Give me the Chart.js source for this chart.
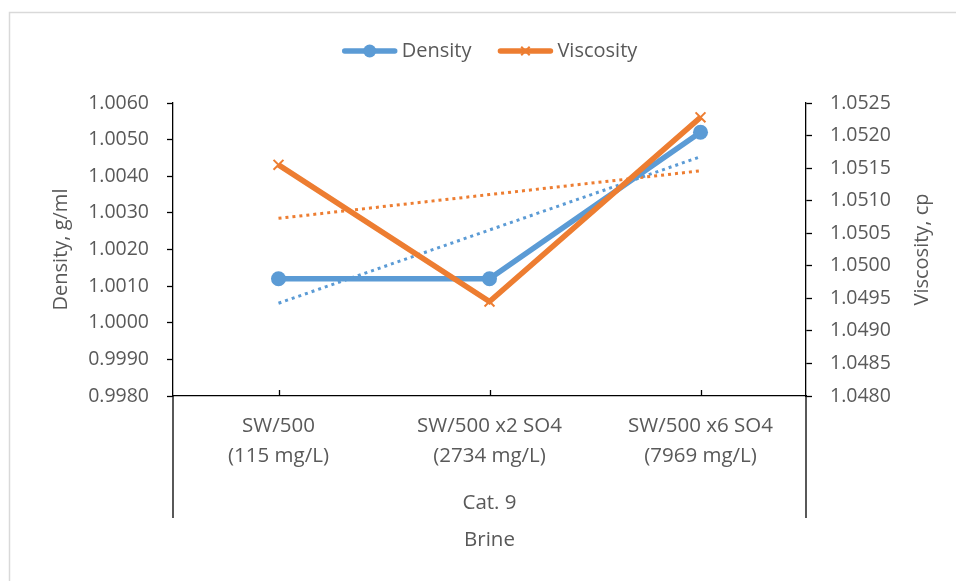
<!DOCTYPE html>
<html>
<head>
<meta charset="utf-8">
<title>Density and viscosity by brine</title>
<script src="https://cdn.jsdelivr.net/npm/chart.js@4.4.1/dist/chart.umd.min.js"></script>
<style>
  html, body { margin: 0; padding: 0; background: #fff; }
  canvas { display: block; }
</style>
</head>
<body>
<canvas id="myChart" width="956" height="581"></canvas>
<script>
const brines = [
  ['SW/500', '(115 mg/L)'],
  ['SW/500 x2 SO4', '(2734 mg/L)'],
  ['SW/500 x6 SO4', '(7969 mg/L)']
];
const groupLabel = 'Cat. 9';
const density = [1.0012, 1.0012, 1.0052];
const viscosity = [1.05155, 1.04945, 1.05228];
const densityTicks = [0.998, 0.999, 1.000, 1.001, 1.002, 1.003, 1.004, 1.005, 1.006];
const viscosityTicks = [1.048, 1.0485, 1.049, 1.0495, 1.050, 1.0505, 1.051, 1.0515, 1.052, 1.0525];
const viscosityTitle = 'Viscosity, cp';

const BLUE = '#5B9BD5';
const ORANGE = '#ED7D31';
const TEXT = '#595959';
const AXIS = '#000000';

Chart.defaults.font.family = "'Open Sans', sans-serif";
Chart.defaults.color = TEXT;

// least squares line through the points, evaluated at each category
function linearTrend(ys) {
  const n = ys.length;
  const xs = ys.map((_, i) => i + 1);
  const mx = xs.reduce((a, b) => a + b, 0) / n;
  const my = ys.reduce((a, b) => a + b, 0) / n;
  let sxy = 0, sxx = 0;
  xs.forEach((x, i) => { sxy += (x - mx) * (ys[i] - my); sxx += (x - mx) * (x - mx); });
  const slope = sxy / sxx;
  return xs.map(x => my + slope * (x - mx));
}

const fixedTicks = list => scale => { scale.ticks = list.map(v => ({ value: v })); };

const excelExtras = {
  id: 'excelExtras',
  afterDraw(chart) {
    const { ctx, chartArea: area } = chart;
    const xScale = chart.scales.x;
    ctx.save();

    // outer chart frame
    ctx.strokeStyle = '#d9d9d9';
    ctx.lineWidth = 1.5;
    ctx.strokeRect(9.5, 12.5, 1000, 1000);

    // category tick marks pointing into the plot
    ctx.strokeStyle = AXIS;
    ctx.lineWidth = 1.3;
    ctx.beginPath();
    brines.forEach((_, i) => {
      const x = Math.round(xScale.getPixelForValue(i)) + 0.5;
      ctx.moveTo(x, area.bottom);
      ctx.lineTo(x, area.bottom - 6);
    });
    // group separators under the axis
    [area.left, area.right].forEach(x => {
      ctx.moveTo(x, area.bottom);
      ctx.lineTo(x, area.bottom + 122);
    });
    ctx.stroke();

    // group label
    ctx.fillStyle = TEXT;
    ctx.font = "20.5px 'Open Sans', sans-serif";
    ctx.textAlign = 'center';
    ctx.textBaseline = 'middle';
    ctx.fillText(groupLabel, (area.left + area.right) / 2, area.bottom + 107);

    // secondary axis title, reading bottom to top like the primary one
    ctx.save();
    ctx.font = "20px 'Open Sans', sans-serif";
    ctx.translate(area.right + 116, (area.top + area.bottom) / 2);
    ctx.rotate(-Math.PI / 2);
    ctx.fillText(viscosityTitle, 0, 0);
    ctx.restore();

    // legend: line with marker, then label
    const items = chart.data.datasets
      .filter(d => d.legendIndex !== undefined)
      .sort((a, b) => a.legendIndex - b.legendIndex);
    ctx.font = "20px 'Open Sans', sans-serif";
    const lineLen = 56, textGap = 4, itemGap = 26;
    const widths = items.map(d => lineLen + textGap + ctx.measureText(d.label).width);
    const total = widths.reduce((a, b) => a + b, 0) + itemGap * (items.length - 1);
    let x = (area.left + area.right) / 2 - total / 2;
    const y = 51;
    items.forEach((d, i) => {
      ctx.strokeStyle = d.borderColor;
      ctx.lineWidth = d.borderWidth;
      ctx.lineCap = 'round';
      ctx.beginPath();
      ctx.moveTo(x + 3, y);
      ctx.lineTo(x + lineLen - 3, y);
      ctx.stroke();
      ctx.lineCap = 'butt';
      ctx.fillStyle = d.pointBackgroundColor;
      ctx.strokeStyle = d.pointBorderColor;
      ctx.lineWidth = d.pointBorderWidth;
      Chart.helpers.drawPoint(ctx, {
        pointStyle: d.pointStyle,
        radius: d.legendRadius,
        borderWidth: d.pointBorderWidth,
        rotation: 0
      }, x + lineLen / 2, y);
      ctx.fillStyle = TEXT;
      ctx.textAlign = 'left';
      ctx.fillText(d.label, x + lineLen + textGap, y);
      x += widths[i] + itemGap;
    });
    ctx.restore();
  }
};

const ctx = document.getElementById('myChart').getContext('2d');

new Chart(ctx, {
  type: 'line',
  data: {
    labels: brines,
    datasets: [
      {
        label: 'Viscosity',
        legendIndex: 1,
        data: viscosity,
        yAxisID: 'y1',
        borderColor: ORANGE,
        borderWidth: 5.5,
        pointStyle: 'crossRot',
        pointRadius: 7,
        legendRadius: 6,
        pointBorderWidth: 2,
        pointBorderColor: ORANGE,
        pointBackgroundColor: ORANGE,
        order: 1
      },
      {
        label: 'Density',
        legendIndex: 0,
        data: density,
        yAxisID: 'y',
        borderColor: BLUE,
        borderWidth: 5.5,
        pointStyle: 'circle',
        pointRadius: 7.5,
        legendRadius: 6.5,
        pointBorderWidth: 0,
        pointBorderColor: BLUE,
        pointBackgroundColor: BLUE,
        order: 2
      },
      {
        label: 'Linear (Viscosity)',
        data: linearTrend(viscosity),
        yAxisID: 'y1',
        borderColor: ORANGE,
        borderWidth: 3,
        borderDash: [3, 4],
        pointRadius: 0,
        order: 3
      },
      {
        label: 'Linear (Density)',
        data: linearTrend(density),
        yAxisID: 'y',
        borderColor: BLUE,
        borderWidth: 3,
        borderDash: [3, 4],
        pointRadius: 0,
        order: 4
      }
    ]
  },
  options: {
    responsive: false,
    animation: false,
    layout: { padding: { left: 12, right: 12, top: 103, bottom: 12 } },
    plugins: {
      legend: { display: false },
      tooltip: { enabled: false }
    },
    scales: {
      x: {
        offset: true,
        grid: { display: false, drawTicks: false },
        border: { display: true, color: AXIS, width: 1.3 },
        ticks: {
          color: TEXT,
          font: { size: 20.5, lineHeight: 1.47 },
          padding: 15,
          maxRotation: 0,
          autoSkip: false
        },
        title: {
          display: true,
          text: 'Brine',
          color: TEXT,
          font: { size: 20.5 },
          padding: { top: 0, bottom: 17 }
        },
        afterFit: s => { s.height = 173; }
      },
      y: {
        position: 'left',
        min: densityTicks[0],
        max: densityTicks[densityTicks.length - 1],
        afterBuildTicks: fixedTicks(densityTicks),
        grid: { drawOnChartArea: false, drawTicks: true, tickLength: 6, tickColor: AXIS, tickWidth: 1.3 },
        border: { color: AXIS, width: 1.3 },
        ticks: {
          color: TEXT,
          font: { size: 19.5 },
          padding: 18,
          callback: v => v.toFixed(4)
        },
        title: {
          display: true,
          text: 'Density, g/ml',
          color: TEXT,
          font: { size: 20 },
          padding: { top: 37, bottom: 0 }
        },
        afterFit: s => { s.width = 161; }
      },
      y1: {
        position: 'right',
        min: viscosityTicks[0],
        max: viscosityTicks[viscosityTicks.length - 1],
        afterBuildTicks: fixedTicks(viscosityTicks),
        grid: { drawOnChartArea: false, drawTicks: true, tickLength: 6, tickColor: AXIS, tickWidth: 1.3 },
        border: { color: AXIS, width: 1.3 },
        ticks: {
          color: TEXT,
          font: { size: 19.5 },
          padding: 18,
          callback: v => v.toFixed(4)
        },
        title: { display: false },
        afterFit: s => { s.width = 138; }
      }
    }
  },
  plugins: [excelExtras]
});
</script>
</body>
</html>
